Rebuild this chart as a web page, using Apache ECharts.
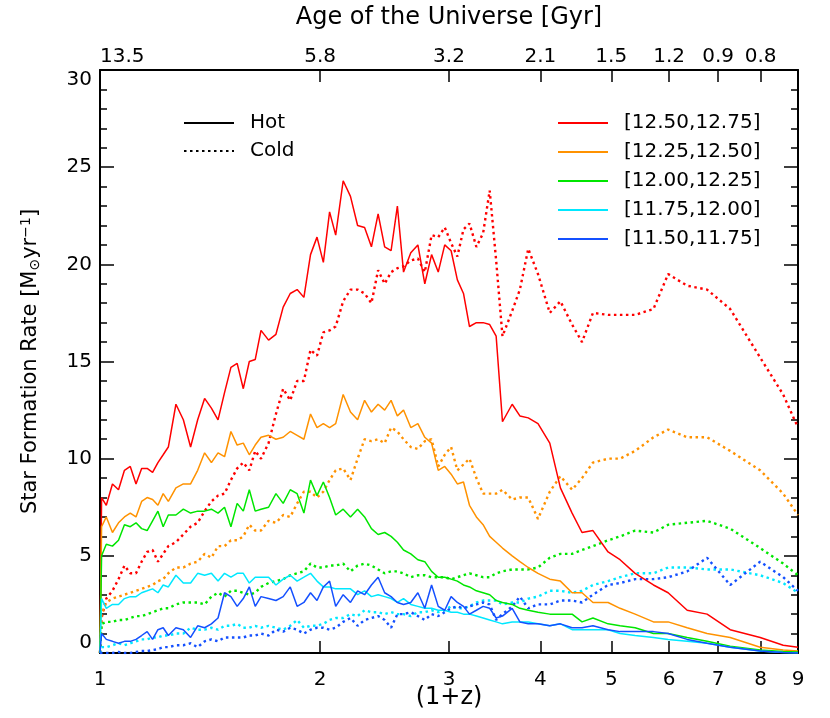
<!DOCTYPE html>
<html>
<head>
<meta charset="utf-8">
<script src="https://cdn.jsdelivr.net/npm/echarts@6/dist/echarts.min.js"></script>
<style>
  html, body { margin: 0; padding: 0; background: #fff; }
  #chart { width: 830px; height: 718px; }
</style>
</head>
<body>
<div id="chart"></div>
<script>
// (1+z) sampling shared by all curves
const zGrid = [1.000, 1.005, 1.02, 1.04, 1.06, 1.08, 1.10, 1.12, 1.14, 1.16, 1.18, 1.20, 1.22, 1.24, 1.27, 1.30,
  1.33, 1.36, 1.39, 1.42, 1.45, 1.48, 1.51, 1.54, 1.57, 1.60, 1.63, 1.66, 1.70, 1.74, 1.78, 1.82, 1.86, 1.90,
  1.94, 1.98, 2.02, 2.06, 2.10, 2.15, 2.20, 2.25, 2.30, 2.35, 2.40, 2.45, 2.50, 2.55, 2.60, 2.66, 2.72, 2.78,
  2.84, 2.90, 2.96, 3.02, 3.08, 3.14, 3.20, 3.27, 3.34, 3.41, 3.48, 3.55, 3.66, 3.75, 3.85, 3.97, 4.12, 4.26,
  4.42, 4.56, 4.72, 4.95, 5.14, 5.39, 5.71, 5.98, 6.35, 6.76, 7.27, 7.99, 8.59, 9.0]

// hot mode SFR per mass bin
const hotR = [0, 8.0, 7.6, 8.7, 8.4, 9.4, 9.6, 8.7, 9.5, 9.5, 9.3, 9.8, 10.2, 10.6, 12.8, 12.0, 10.6, 12.0, 13.1, 12.6,
  12.0, 13.4, 14.7, 14.9, 13.6, 15.0, 15.1, 16.6, 16.1, 16.4, 17.8, 18.5, 18.7, 18.3, 20.5, 21.4, 20.1, 22.7, 21.5,
  24.3, 23.5, 22.0, 21.9, 20.9, 22.6, 20.9, 20.7, 23.0, 19.6, 20.6, 21.0, 19.0, 20.5, 19.6, 21.0, 20.7, 19.2, 18.5,
  16.8, 17.0, 17.0, 16.9, 16.3, 11.9, 12.8, 12.2, 12.1, 11.8, 10.8, 8.5, 7.2, 6.2, 6.3, 5.2, 4.8, 4.1, 3.5, 3.1,
  2.2, 2.0, 1.2, 0.8, 0.4, 0.3]
const hotO = [0, 6.5, 7.0, 6.2, 6.7, 7.0, 7.2, 7.0, 7.8, 8.0, 7.9, 7.6, 8.2, 7.8, 8.5, 8.7, 8.7, 9.4, 10.3, 9.8,
  10.3, 10.1, 11.4, 10.7, 10.8, 10.2, 10.7, 11.1, 11.2, 11.0, 11.1, 11.4, 11.2, 11.0, 12.3, 11.6, 11.8, 11.6, 11.8,
  13.3, 12.4, 12.0, 13.0, 12.4, 12.8, 12.5, 13.0, 12.2, 12.5, 11.6, 11.8, 11.1, 10.8, 9.4, 9.6, 9.2, 8.7, 8.8, 7.6,
  7.0, 6.6, 6.0, 5.7, 5.4, 5.0, 4.7, 4.4, 4.1, 3.8, 3.7, 3.1, 3.1, 2.6, 2.6, 2.3, 2.0, 1.6, 1.6, 1.3, 1.0, 0.8,
  0.3, 0.15, 0.1]
const hotG = [0, 5.0, 5.6, 5.5, 5.8, 6.6, 6.5, 6.7, 6.4, 6.3, 6.8, 7.3, 6.5, 7.1, 7.1, 7.4, 7.2, 7.3, 7.3, 7.4,
  7.2, 7.5, 6.5, 7.7, 7.3, 8.4, 7.3, 7.4, 7.5, 8.2, 7.7, 8.4, 8.2, 7.2, 8.9, 8.1, 8.8, 8.0, 7.1, 7.4, 7.0, 7.4,
  7.0, 6.4, 6.1, 6.2, 6.0, 5.7, 5.3, 5.1, 4.8, 4.7, 4.2, 3.9, 3.9, 3.8, 3.7, 3.5, 3.4, 3.2, 3.1, 3.0, 2.7, 2.6,
  2.5, 2.3, 2.2, 2.1, 2.0, 2.0, 2.0, 1.6, 1.8, 1.5, 1.4, 1.3, 1.0, 1.0, 0.8, 0.6, 0.35, 0.15, 0.08, 0.05]
const hotC = [0, 2.8, 2.3, 2.5, 2.5, 2.8, 2.9, 2.9, 3.1, 3.2, 3.3, 3.1, 3.5, 3.4, 4.0, 3.6, 3.6, 4.1, 4.0, 4.1,
  3.7, 4.1, 3.9, 4.1, 4.1, 3.6, 3.9, 3.9, 3.9, 3.5, 3.8, 4.0, 3.7, 3.9, 4.1, 3.7, 3.4, 3.4, 3.3, 3.3, 3.3, 3.0,
  3.2, 2.9, 3.0, 2.9, 2.8, 2.6, 2.8, 2.5, 2.4, 2.3, 2.3, 2.2, 2.2, 2.1, 2.1, 2.0, 2.0, 1.9, 1.8, 1.7, 1.6, 1.5,
  1.6, 1.6, 1.6, 1.5, 1.4, 1.5, 1.2, 1.2, 1.2, 1.2, 1.0, 0.9, 0.8, 0.7, 0.6, 0.5, 0.3, 0.1, 0.02, 0]
const hotB = [0, 1.0, 0.7, 0.6, 0.5, 0.6, 0.6, 0.7, 0.9, 1.1, 0.7, 1.2, 1.3, 0.9, 1.3, 1.2, 0.8, 1.4, 1.3, 1.5,
  1.8, 3.1, 2.9, 2.4, 2.8, 3.4, 2.4, 2.9, 2.8, 2.7, 2.9, 3.4, 2.4, 2.6, 3.1, 2.7, 3.4, 3.7, 2.4, 3.0, 2.6, 3.2,
  3.0, 3.5, 3.9, 3.1, 2.9, 2.6, 2.5, 2.6, 3.1, 2.3, 3.5, 2.4, 2.2, 2.9, 2.6, 2.4, 2.0, 2.2, 2.4, 2.3, 1.8, 1.9,
  2.3, 1.6, 1.5, 1.5, 1.4, 1.5, 1.3, 1.3, 1.4, 1.2, 1.1, 1.1, 1.1, 1.0, 0.7, 0.5, 0.3, 0.1, 0.02, 0]

// cold mode SFR per mass bin
const coldR = [0, 1.8, 2.8, 3.2, 3.8, 4.5, 4.1, 4.1, 4.7, 5.2, 5.3, 4.7, 5.1, 5.5, 5.7, 6.1, 6.5, 6.7, 7.3, 7.8,
  8.1, 8.2, 8.9, 9.5, 9.8, 9.4, 10.4, 10.0, 10.8, 12.3, 13.6, 13.0, 14.0, 14.0, 15.6, 15.3, 16.5, 16.6, 16.8, 18.1,
  18.7, 18.7, 18.5, 18.0, 19.7, 19.0, 19.6, 19.8, 19.9, 20.2, 20.3, 19.6, 21.5, 21.4, 21.9, 21.1, 20.4, 21.8, 22.1,
  20.9, 21.6, 23.8, 20.2, 16.3, 17.6, 18.7, 20.8, 19.5, 17.5, 18.1, 16.9, 16.0, 17.5, 17.4, 17.4, 17.4, 17.7, 19.5,
  18.9, 18.7, 17.7, 15.2, 13.3, 11.6]
const coldO = [0, 2.0, 2.6, 2.8, 2.9, 3.0, 3.1, 3.2, 3.3, 3.4, 3.5, 3.7, 3.8, 4.1, 4.4, 4.4, 4.6, 4.7, 5.1, 4.9,
  5.5, 5.5, 5.8, 5.8, 6.0, 6.6, 6.3, 6.3, 6.8, 6.7, 7.1, 7.0, 7.7, 8.3, 8.3, 8.0, 8.3, 8.9, 9.4, 9.5, 8.9, 10.0,
  11.0, 10.9, 11.0, 10.8, 11.6, 11.4, 11.0, 10.6, 10.5, 10.9, 11.0, 9.6, 10.2, 10.6, 9.4, 9.7, 10.0, 9.0, 8.2, 8.2,
  8.2, 8.4, 7.9, 8.0, 8.0, 6.9, 8.3, 9.1, 8.4, 9.0, 9.8, 10.0, 10.0, 10.4, 11.1, 11.5, 11.1, 11.1, 10.4, 9.4, 8.2, 7.1]
const coldG = [0, 1.5, 1.6, 1.6, 1.7, 1.7, 1.8, 1.9, 1.9, 2.0, 2.1, 2.2, 2.3, 2.3, 2.5, 2.6, 2.6, 2.6, 2.5, 2.9,
  3.1, 2.9, 3.2, 3.2, 3.1, 3.0, 3.1, 3.4, 3.6, 3.7, 3.8, 4.0, 4.1, 4.2, 4.6, 4.4, 4.4, 4.5, 4.5, 4.6, 4.2, 4.5,
  4.6, 4.5, 4.3, 4.1, 4.2, 4.2, 4.1, 3.9, 4.0, 4.0, 3.9, 3.9, 3.9, 3.8, 3.9, 4.0, 4.1, 4.0, 3.9, 3.9, 4.1, 4.2,
  4.3, 4.3, 4.3, 4.4, 4.9, 5.1, 5.1, 5.3, 5.5, 5.8, 6.0, 6.3, 6.2, 6.6, 6.7, 6.8, 6.4, 5.4, 4.6, 4.0]
const coldC = [0, 0.3, 0.3, 0.4, 0.5, 0.4, 0.5, 0.6, 0.7, 0.7, 0.8, 0.8, 0.9, 0.9, 1.0, 1.0, 1.3, 1.2, 1.2, 1.3,
  1.2, 1.4, 1.4, 1.5, 1.3, 1.3, 1.4, 1.3, 1.4, 1.3, 1.2, 1.4, 1.7, 1.3, 1.4, 1.4, 1.5, 1.7, 1.8, 1.8, 2.0, 1.9,
  2.2, 2.1, 2.1, 2.0, 2.1, 2.0, 2.0, 1.9, 2.1, 2.1, 2.2, 2.1, 2.2, 2.4, 2.3, 2.3, 2.4, 2.6, 2.7, 2.7, 2.7, 2.5,
  2.6, 2.6, 2.8, 2.9, 3.2, 3.2, 3.1, 3.2, 3.5, 3.7, 3.9, 4.1, 4.1, 4.4, 4.4, 4.3, 4.3, 4.0, 3.6, 3.1]
const coldB = [0, 0, 0, 0, 0.05, 0, 0, 0.05, 0.1, 0.1, 0.15, 0.2, 0.3, 0.3, 0.4, 0.4, 0.5, 0.3, 0.6, 0.7, 0.6,
  0.8, 0.8, 0.8, 0.8, 0.9, 0.9, 1.0, 0.9, 1.2, 1.1, 1.3, 1.2, 1.0, 1.2, 1.3, 1.3, 1.2, 1.3, 1.6, 1.8, 1.4, 1.7,
  1.8, 1.9, 1.7, 1.3, 2.0, 2.0, 2.1, 1.9, 1.7, 2.0, 1.9, 2.1, 2.3, 2.4, 2.3, 2.4, 2.5, 2.6, 2.5, 1.7, 2.0, 2.4,
  2.9, 2.3, 2.5, 2.5, 2.7, 2.7, 2.6, 3.0, 3.5, 3.6, 3.8, 3.8, 3.9, 4.2, 4.9, 3.5, 4.7, 3.9, 3.2]

const binLabels = ['[12.50,12.75]', '[12.25,12.50]', '[12.00,12.25]', '[11.75,12.00]', '[11.50,11.75]']
const binColors = ['#ff0000', '#ff9200', '#00e600', '#00e8ff', '#1450ff']
const hotSets = [hotR, hotO, hotG, hotC, hotB]
const coldSets = [coldR, coldO, coldG, coldC, coldB]

const bottomTicks = [1, 2, 3, 4, 5, 6, 7, 8, 9]
const ageTicks = [1, 2, 3, 4, 5, 6, 7, 8]
const ageLabels = ['13.5', '5.8', '3.2', '2.1', '1.5', '1.2', '0.9', '0.8']

const FONT = 'DejaVu Sans'
const DOTS = [2.5, 3.5]

function pairs(ys) {
  return zGrid.map((z, i) => [z, ys[i]])
}

const series = [
  { name: 'Hot', type: 'line', data: [], symbol: 'none', itemStyle: { color: '#000' }, lineStyle: { color: '#000', width: 2 } },
  { name: 'Cold', type: 'line', data: [], symbol: 'none', itemStyle: { color: '#000' }, lineStyle: { color: '#000', width: 2.4, type: DOTS } }
]
binLabels.forEach((label, k) => {
  series.push({
    name: label + ' cold',
    type: 'line',
    data: pairs(coldSets[k]),
    symbol: 'none',
    itemStyle: { color: binColors[k] },
    lineStyle: { color: binColors[k], width: 2.4, type: DOTS }
  })
})
binLabels.forEach((label, k) => {
  series.push({
    name: label,
    type: 'line',
    data: pairs(hotSets[k]),
    symbol: 'none',
    itemStyle: { color: binColors[k] },
    lineStyle: { color: binColors[k], width: 1.5 }
  })
})

const axisLineStyle = { color: '#000', width: 2 }
const tickStyle = { color: '#000', width: 1.5 }
const legendText = { fontSize: 20, lineHeight: 22, color: '#000', padding: [0, 0, 0, 11] }

const chart = echarts.init(document.getElementById('chart'))
chart.setOption({
  animation: false,
  backgroundColor: '#fff',
  textStyle: { fontFamily: FONT, color: '#000' },
  grid: { left: 100, right: 32, top: 70, bottom: 65, containLabel: false, outerBoundsMode: 'none' },
  legend: [
    {
      data: ['Hot', 'Cold'],
      orient: 'vertical',
      left: 183,
      top: 112,
      padding: 0,
      itemWidth: 50,
      itemHeight: 14,
      itemGap: 6,
      selectedMode: false,
      itemStyle: { opacity: 0 },
      textStyle: legendText
    },
    {
      data: binLabels,
      orient: 'vertical',
      left: 557,
      top: 112,
      padding: 0,
      itemWidth: 50,
      itemHeight: 14,
      itemGap: 7,
      selectedMode: false,
      itemStyle: { opacity: 0 },
      lineStyle: { width: 2 },
      textStyle: legendText
    }
  ],
  xAxis: [
    {
      type: 'log',
      logBase: 10,
      min: 1,
      max: 9,
      position: 'bottom',
      name: '(1+z)',
      nameLocation: 'middle',
      nameGap: 33,
      nameMoveOverlap: false,
      nameTextStyle: { fontSize: 24, color: '#000' },
      axisLine: { onZero: false, lineStyle: axisLineStyle },
      axisTick: { inside: true, length: 12, customValues: bottomTicks, lineStyle: tickStyle },
      axisLabel: { customValues: bottomTicks, margin: 17, fontSize: 20, color: '#000', formatter: v => String(Math.round(v)) },
      splitLine: { show: false }
    },
    {
      type: 'log',
      logBase: 10,
      min: 1,
      max: 9,
      position: 'top',
      name: 'Age of the Universe [Gyr]',
      nameLocation: 'middle',
      nameGap: 40,
      nameTextStyle: { fontSize: 24, color: '#000' },
      axisLine: { onZero: false, lineStyle: axisLineStyle },
      axisTick: { inside: true, length: 12, customValues: ageTicks.slice(1), lineStyle: tickStyle },
      axisLabel: {
        customValues: ageTicks,
        margin: 3,
        fontSize: 20,
        color: '#000',
        alignMinLabel: 'left',
        formatter: v => ageLabels[Math.round(v) - 1]
      },
      splitLine: { show: false }
    }
  ],
  yAxis: [
    {
      type: 'value',
      min: 0,
      max: 30,
      interval: 5,
      name: 'Star Formation Rate [M{sun|⊙}yr{sup|−1}]',
      nameLocation: 'middle',
      nameGap: 57,
      nameTextStyle: {
        fontSize: 21,
        color: '#000',
        rich: {
          sun: { fontSize: 14, padding: [8, 0, 0, 0], color: '#000' },
          sup: { fontSize: 14, padding: [0, 0, 10, 0], color: '#000' }
        }
      },
      axisLine: { show: true, onZero: false, lineStyle: axisLineStyle },
      axisTick: { inside: true, length: 14, lineStyle: tickStyle },
      minorTick: { show: true, splitNumber: 5, length: 7, lineStyle: tickStyle },
      axisLabel: { margin: 8, fontSize: 20, color: '#000', verticalAlignMaxLabel: 'top', verticalAlignMinLabel: 'bottom' },
      splitLine: { show: false }
    },
    {
      type: 'value',
      min: 0,
      max: 30,
      interval: 5,
      position: 'right',
      axisLine: { show: true, onZero: false, lineStyle: axisLineStyle },
      axisTick: { inside: true, length: 14, lineStyle: tickStyle },
      minorTick: { show: true, splitNumber: 5, length: 7, lineStyle: tickStyle },
      axisLabel: { show: false },
      splitLine: { show: false }
    }
  ],
  series: series
})
window.addEventListener('resize', () => chart.resize())
</script>
</body>
</html>
